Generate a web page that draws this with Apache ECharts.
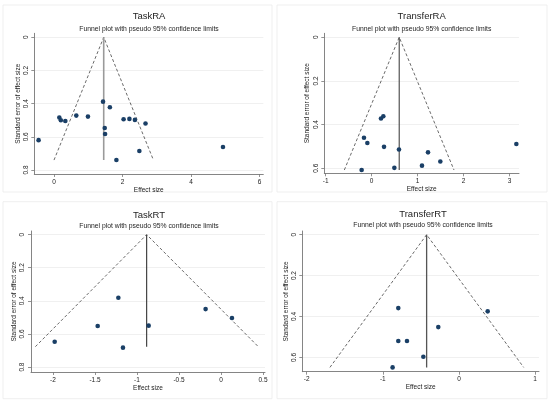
<!DOCTYPE html>
<html>
<head>
<meta charset="utf-8">
<script src="https://cdn.jsdelivr.net/npm/echarts@6/dist/echarts.min.js"></script>
<style>html,body{margin:0;padding:0;background:#fff}#c{width:550px;height:403px}</style>
</head>
<body>
<div id="c"></div>
<script>
// ---- data ----
const panelNames = ['TaskRA', 'TransferRA', 'TaskRT', 'TransferRT'];
const subtitle = 'Funnel plot with pseudo 95% confidence limits';
const xAxisName = 'Effect size';
const yAxisName = 'Standard error of effect size';

const taskRA_es = [-0.45, 0.155, 0.20, 0.33, 0.65, 0.99, 1.43, 1.63, 1.48, 1.49, 1.82, 2.03, 2.20, 2.36, 2.67, 2.49, 4.93];
const taskRA_se = [0.62, 0.484, 0.50, 0.505, 0.472, 0.478, 0.388, 0.422, 0.547, 0.583, 0.74, 0.494, 0.492, 0.498, 0.52, 0.685, 0.661];

const transferRA_es = [0.203, 0.254, -0.167, -0.094, 0.269, 0.595, 1.227, 1.495, 1.096, 0.494, -0.218, 3.15];
const transferRA_se = [0.372, 0.362, 0.46, 0.484, 0.502, 0.514, 0.527, 0.569, 0.588, 0.598, 0.608, 0.489];

const taskRT_es = [-1.222, -1.468, -1.98, -1.167, -0.861, -0.183, 0.131];
const taskRT_se = [0.381, 0.552, 0.647, 0.683, 0.550, 0.450, 0.504];

const transferRT_es = [-0.797, 0.377, -0.272, -0.797, -0.683, -0.468, -0.872];
const transferRT_se = [0.359, 0.375, 0.452, 0.52, 0.52, 0.597, 0.649];

// funnel: pooled estimate, bottom SE, left / right limits at bottom
const funnelCenter = [1.45, 0.60, -0.885, -0.425];
const funnelBottomSE = [0.74, 0.608, 0.677, 0.649];
const funnelLeft = [0.0, -0.595, -2.21, -1.695];
const funnelRight = [2.90, 1.793, 0.444, 0.85];

// tick labels
const xTicks = [[0, 2, 4, 6], [-1, 0, 1, 2, 3], [-2, -1.5, -1, -0.5, 0, 0.5], [-2, -1, 0, 1]];
const yTicks = [[0, 0.2, 0.4, 0.6, 0.8], [0, 0.2, 0.4, 0.6], [0, 0.2, 0.4, 0.6, 0.8], [0, 0.2, 0.4, 0.6]];

// axis extents (plot region)
const xRange = [[-0.575, 6.106], [-1.031, 3.208], [-2.262, 0.524], [-2.058, 1.051]];
const yRange = [[-0.024, 0.824], [-0.018, 0.623], [-0.022, 0.830], [-0.018, 0.670]];

// ---- layout ----
const grids = [
  {left: 34.3, top: 33.3, width: 229, height: 140.7},
  {left: 324.3, top: 33.3, width: 194.7, height: 140},
  {left: 31, top: 231, width: 234, height: 141},
  {left: 302.3, top: 231, width: 236.7, height: 140.7}
];
const titlePos = [[149, 16, 28.7], [421.7, 16, 28.7], [149, 215, 225.7], [423, 214.3, 225]];
const frames = [[3, 5, 269, 187], [277, 5, 270, 187], [3, 201.7, 269, 197], [277, 201.7, 270, 197]];
const yNameGap = [11, 14, 12.5, 12];
const lineColor = ['#9a9a9a', '#444', '#333', '#555'];
const lineWidth = [1.6, 1.1, 1.1, 1.3];

const FONT = 'Liberation Sans, Arial, sans-serif';
const esList = [taskRA_es, transferRA_es, taskRT_es, transferRT_es];
const seList = [taskRA_se, transferRA_se, taskRT_se, transferRT_se];

const fmt = v => String(v);

const option = {
  backgroundColor: '#fff',
  animation: false,
  grid: grids.map(g => Object.assign({containLabel: false}, g)),
  xAxis: [], yAxis: [], series: [], graphic: []
};

for (let i = 0; i < 4; i++) {
  option.xAxis.push({
    type: 'value', gridIndex: i, min: xRange[i][0], max: xRange[i][1],
    name: xAxisName, nameLocation: 'middle', nameGap: 12,
    nameTextStyle: {fontFamily: FONT, fontSize: 6.5, color: '#222'},
    axisLine: {show: true, onZero: false, lineStyle: {color: '#777', width: 0.9}},
    axisTick: {show: true, length: 3, lineStyle: {color: '#777', width: 0.8}, customValues: xTicks[i]},
    axisLabel: {fontFamily: FONT, fontSize: 6.5, color: '#222', margin: 4.5, customValues: xTicks[i], formatter: fmt},
    splitLine: {show: false}
  });
  option.yAxis.push({
    type: 'value', gridIndex: i, inverse: true, min: yRange[i][0], max: yRange[i][1],
    name: yAxisName, nameLocation: 'middle', nameGap: yNameGap[i], nameRotate: 90,
    nameTextStyle: {fontFamily: FONT, fontSize: 6.5, color: '#222'},
    axisLine: {show: true, onZero: false, lineStyle: {color: '#777', width: 0.9}},
    axisTick: {show: true, length: 3, lineStyle: {color: '#777', width: 0.8}, customValues: yTicks[i]},
    axisLabel: {fontFamily: FONT, fontSize: 6.5, color: '#222', margin: 5, rotate: 90, customValues: yTicks[i], formatter: fmt},
    splitLine: {show: true, lineStyle: {color: '#ececec', width: 0.8}}
  });
  // funnel dashed lines
  option.series.push({
    type: 'line', xAxisIndex: i, yAxisIndex: i, symbol: 'none', silent: true,
    data: [[funnelLeft[i], funnelBottomSE[i]], [funnelCenter[i], 0], [funnelRight[i], funnelBottomSE[i]]],
    lineStyle: {color: '#444', width: 0.8, type: [3, 2.2]}, z: 2
  });
  // pooled estimate vertical line
  option.series.push({
    type: 'line', xAxisIndex: i, yAxisIndex: i, symbol: 'none', silent: true,
    data: [[funnelCenter[i], 0], [funnelCenter[i], funnelBottomSE[i]]],
    lineStyle: {color: lineColor[i], width: lineWidth[i]}, z: 2
  });
  // study points
  option.series.push({
    type: 'scatter', xAxisIndex: i, yAxisIndex: i, symbol: 'circle', symbolSize: 4.6,
    data: esList[i].map((x, k) => [x, seList[i][k]]),
    itemStyle: {color: '#1a3f66', opacity: 1}, z: 3
  });
  // frame
  option.graphic.push({
    type: 'rect', shape: {x: frames[i][0], y: frames[i][1], width: frames[i][2], height: frames[i][3]},
    style: {fill: 'none', stroke: '#ebebeb', lineWidth: 0.8}, silent: true, z: -1
  });
  option.graphic.push({
    type: 'text', x: titlePos[i][0], y: titlePos[i][1],
    style: {text: panelNames[i], fontFamily: FONT, fontSize: 9.5, fill: '#1e1e1e', align: 'center', verticalAlign: 'middle'}
  });
  option.graphic.push({
    type: 'text', x: titlePos[i][0], y: titlePos[i][2],
    style: {text: subtitle, fontFamily: FONT, fontSize: 6.8, fill: '#1e1e1e', align: 'center', verticalAlign: 'middle'}
  });
}

const chart = echarts.init(document.getElementById('c'), null, {renderer: 'canvas'});
chart.setOption(option);
</script>
</body>
</html>
